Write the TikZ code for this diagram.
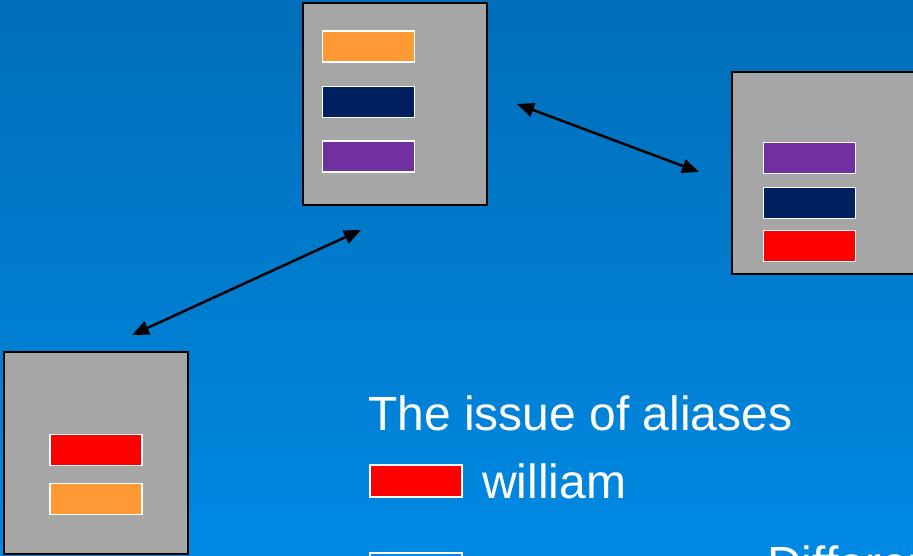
\documentclass[tikz,border=0pt]{standalone}
\usepackage{fontspec}
\setmainfont{Liberation Sans}
\usetikzlibrary{arrows.meta,positioning}
\definecolor{bgtop}{RGB}{0,110,184}
\definecolor{bgbot}{RGB}{0,137,227}
\definecolor{hostgray}{RGB}{166,166,166}
\definecolor{slotorange}{RGB}{255,153,51}
\definecolor{slotnavy}{RGB}{0,32,96}
\definecolor{slotpurple}{RGB}{112,48,160}
\definecolor{slotred}{RGB}{255,0,0}

\begin{document}
\begin{tikzpicture}[x=1pt,y=-1pt,
		host/.style={draw=black,fill=hostgray,line width=2.5pt,minimum width=184pt,minimum height=202pt,inner sep=0pt},
		slot/.style={draw=white,line width=1.5pt,minimum width=92pt,minimum height=31pt,inner sep=0pt},
		link/.style={line width=2.5pt,{Triangle[length=17pt,width=14pt]}-{Triangle[length=17pt,width=14pt]}},
		caption/.style={text=white,font=\fontsize{48}{55}\selectfont,inner sep=0pt,anchor=base west}]
		\useasboundingbox (0,0) rectangle (913,555);
		\clip (0,0) rectangle (913,555);
		\shade[top color=bgtop,bottom color=bgbot] (0,0) rectangle (913,555);

		\node[host] (hosttop) at (395,104) {};
		\node[host] (hostright) at (824,173) {};
		\node[host] (hostleft) at (96,453) {};

		\foreach \c/\y [count=\i] in {slotorange/46.5,slotnavy/102,slotpurple/156.5} \node[slot,fill=\c] (top\i) at (368.5,\y) {};
		\foreach \c/\y [count=\i] in {slotpurple/158,slotnavy/203,slotred/246} \node[slot,fill=\c] (right\i) at (809.5,\y) {};
		\foreach \c/\y [count=\i] in {slotred/450,slotorange/499} \node[slot,fill=\c] (left\i) at (96,\y) {};

		\coordinate (a1) at (517,104);
		\coordinate (a2) at (699,172);
		\coordinate (b1) at (132,335);
		\coordinate (b2) at (361,230);
		\draw[link] (a1) -- (a2);
		\draw[link] (b1) -- (b2);

		\node[caption] (title) at (368,430) {The issue of aliases};
		\node[slot,fill=slotred,minimum height=32pt] (keyred) at (416,481) {};
		\node[caption] (keywilliam) at (482,498) {william};
		\node[slot,minimum height=32pt] (keynext) at (416,569) {};
		\node[caption] (keydiff) at (767,580) {Different};
	\end{tikzpicture}
\end{document}
